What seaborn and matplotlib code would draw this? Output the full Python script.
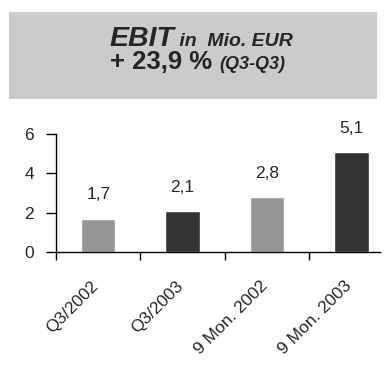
import matplotlib
matplotlib.use("Agg")
import matplotlib.pyplot as plt
from matplotlib.patches import Rectangle
from matplotlib.ticker import FixedLocator, NullFormatter
import seaborn as sns
import pandas as pd

categories = ["Q3/2002", "Q3/2003", "9 Mon. 2002", "9 Mon. 2003"]
values = [1.7, 2.1, 2.8, 5.1]
bar_colors = ["#969696", "#333333", "#969696", "#333333"]
y_ticks = [0, 2, 4, 6]

sns.set_style("white")
plt.rcParams["font.family"] = ["Liberation Sans", "DejaVu Sans"]

W, H = 385, 369
fig = plt.figure(figsize=(W / 100, H / 100), dpi=100)

# header box
fig.patches.append(Rectangle((9 / W, 1 - 99 / H), (377 - 9) / W, (99 - 12) / H,
                             transform=fig.transFigure, facecolor="#cbcbcb",
                             edgecolor="none", zorder=0))

def header_line(pieces, y_px, cx_px):
    texts = []
    for s, size, style in pieces:
        t = fig.text(0, 1 - y_px / H, s, fontsize=size, fontweight="bold",
                     fontstyle=style, va="baseline", ha="left")
        texts.append(t)
    fig.canvas.draw()
    r = fig.canvas.get_renderer()
    widths = [t.get_window_extent(r).width for t in texts]
    total = sum(widths)
    x = cx_px - total / 2
    for t, w in zip(texts, widths):
        t.set_x(x / W)
        x += w

header_line([("EBIT", 20.5, "italic"), (" in  Mio. EUR", 14, "italic")], 46, 201)
header_line([("+ 23,9 % ", 18.5, "normal"), ("(Q3-Q3)", 13, "italic")], 69, 198)

df = pd.DataFrame({"cat": categories, "val": values})
ax = fig.add_axes([56 / W, 1 - 252 / H, (380 - 56) / W, (252 - 134) / H])
sns.barplot(data=df, x="cat", y="val", hue="cat", palette=bar_colors,
            legend=False, width=0.41, saturation=1, ax=ax)

ax.set_xlim(-0.5, 3.34)
ax.set_ylim(0, 6)
ax.set_xlabel("")
ax.set_ylabel("")
ax.set_yticks(y_ticks)
ax.set_yticklabels([str(v) for v in y_ticks], fontsize=12.5)
ax.tick_params(axis="y", direction="out", length=7, width=1, color="black", pad=9, left=True)

# tick marks at category boundaries; rotated labels sit just left of each bar centre
ax.xaxis.set_major_locator(FixedLocator([-0.5, 0.5, 1.5, 2.5, 3.5]))
ax.xaxis.set_major_formatter(NullFormatter())
ax.xaxis.set_minor_locator(FixedLocator([i - 0.085 for i in range(len(categories))]))
ax.set_xticklabels(categories, minor=True, rotation=45, ha="right",
                   rotation_mode="anchor", fontsize=12.5)
ax.tick_params(axis="x", which="major", direction="out", length=6, width=1,
               color="black", bottom=True)
ax.tick_params(axis="x", which="minor", length=0, pad=19)

for side in ["top", "right"]:
    ax.spines[side].set_visible(False)
for side in ["left", "bottom"]:
    ax.spines[side].set_color("black")
    ax.spines[side].set_linewidth(1)

for i, v in enumerate(values):
    ax.annotate(f"{v:.1f}".replace(".", ","), (i, v), xytext=(0, 17),
                textcoords="offset points", ha="center", va="center", fontsize=12.5)

fig.savefig("out.png", dpi=100)
